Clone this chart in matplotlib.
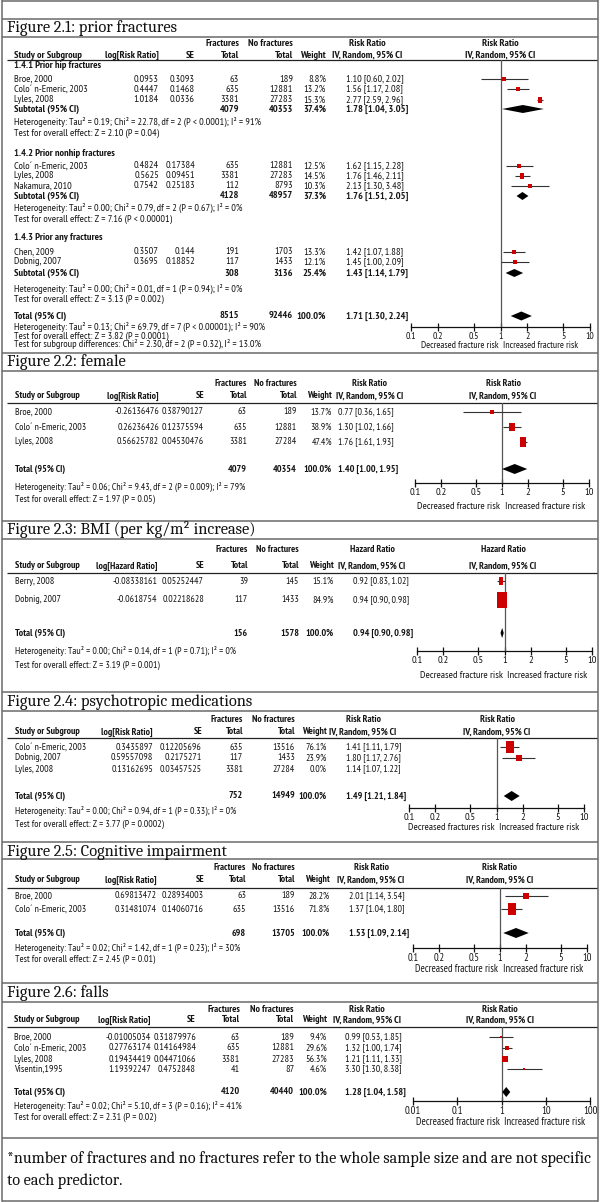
import matplotlib
matplotlib.use('Agg')
import matplotlib.pyplot as plt
from matplotlib import transforms
from matplotlib.ticker import NullLocator

# ---------------- DATA ----------------
# Figure 2.1: prior fractures
f1_groups = ['1.4.1 Prior hip fractures', '1.4.2 Prior nonhip fractures', '1.4.3 Prior any fractures']
f1_study = ['Broe, 2000', 'Colo´ n-Emeric, 2003', 'Lyles, 2008',
            'Colo´ n-Emeric, 2003', 'Lyles, 2008', 'Nakamura, 2010',
            'Chen, 2009', 'Dobnig, 2007']
f1_group_of = [0, 0, 0, 1, 1, 1, 2, 2]
f1_log = [0.0953, 0.4447, 1.0184, 0.4824, 0.5625, 0.7542, 0.3507, 0.3695]
f1_se = [0.3093, 0.1468, 0.0336, 0.17384, 0.09451, 0.25183, 0.144, 0.18852]
f1_frac = [63, 635, 3381, 635, 3381, 112, 191, 117]
f1_nofrac = [189, 12881, 27283, 12881, 27283, 8793, 1703, 1433]
f1_weight = [8.8, 13.2, 15.3, 12.5, 14.5, 10.3, 13.3, 12.1]
f1_rr = [1.10, 1.56, 2.77, 1.62, 1.76, 2.13, 1.42, 1.45]
f1_lo = [0.60, 1.17, 2.59, 1.15, 1.46, 1.30, 1.07, 1.00]
f1_hi = [2.02, 2.08, 2.96, 2.28, 2.11, 3.48, 1.88, 2.09]
f1_sub_frac = [4079, 4128, 308]
f1_sub_nofrac = [40353, 48957, 3136]
f1_sub_weight = [37.4, 37.3, 25.4]
f1_sub_rr = [1.78, 1.76, 1.43]
f1_sub_lo = [1.04, 1.51, 1.14]
f1_sub_hi = [3.05, 2.05, 1.79]
f1_sub_het = ['Heterogeneity: Tau² = 0.19; Chi² = 22.78, df = 2 (P < 0.0001); I² = 91%',
              'Heterogeneity: Tau² = 0.00; Chi² = 0.79, df = 2 (P = 0.67); I² = 0%',
              'Heterogeneity: Tau² = 0.00; Chi² = 0.01, df = 1 (P = 0.94); I² = 0%']
f1_sub_test = ['Test for overall effect: Z = 2.10 (P = 0.04)',
               'Test for overall effect: Z = 7.16 (P < 0.00001)',
               'Test for overall effect: Z = 3.13 (P = 0.002)']
f1_tot = [8515, 92446, 100.0, 1.71, 1.30, 2.24]
f1_notes = ['Heterogeneity: Tau² = 0.13; Chi² = 69.79, df = 7 (P < 0.00001); I² = 90%',
            'Test for overall effect: Z = 3.82 (P = 0.0001)',
            'Test for subgroup differences: Chi² = 2.30, df = 2 (P = 0.32), I² = 13.0%']

# Figure 2.2: female
f2_study = ['Broe, 2000', 'Colo´ n-Emeric, 2003', 'Lyles, 2008']
f2_log = [-0.26136476, 0.26236426, 0.56625782]
f2_se = [0.38790127, 0.12375594, 0.04530476]
f2_frac = [63, 635, 3381]
f2_nofrac = [189, 12881, 27284]
f2_weight = [13.7, 38.9, 47.4]
f2_rr = [0.77, 1.30, 1.76]
f2_lo = [0.36, 1.02, 1.61]
f2_hi = [1.65, 1.66, 1.93]
f2_tot = [4079, 40354, 100.0, 1.40, 1.00, 1.95]
f2_notes = ['Heterogeneity: Tau² = 0.06; Chi² = 9.43, df = 2 (P = 0.009); I² = 79%',
            'Test for overall effect: Z = 1.97 (P = 0.05)']

# Figure 2.3: BMI
f3_study = ['Berry, 2008', 'Dobnig, 2007']
f3_log = [-0.08338161, -0.0618754]
f3_se = [0.05252447, 0.02218628]
f3_frac = [39, 117]
f3_nofrac = [145, 1433]
f3_weight = [15.1, 84.9]
f3_rr = [0.92, 0.94]
f3_lo = [0.83, 0.90]
f3_hi = [1.02, 0.98]
f3_tot = [156, 1578, 100.0, 0.94, 0.90, 0.98]
f3_notes = ['Heterogeneity: Tau² = 0.00; Chi² = 0.14, df = 1 (P = 0.71); I² = 0%',
            'Test for overall effect: Z = 3.19 (P = 0.001)']

# Figure 2.4: psychotropic medications
f4_study = ['Colo´ n-Emeric, 2003', 'Dobnig, 2007', 'Lyles, 2008']
f4_log = [0.3435897, 0.59557098, 0.13162695]
f4_se = [0.12205696, 0.2175271, 0.03457525]
f4_frac = [635, 117, 3381]
f4_nofrac = [13516, 1433, 27284]
f4_weight = [76.1, 23.9, 0.0]
f4_rr = [1.41, 1.80, 1.14]
f4_lo = [1.11, 1.17, 1.07]
f4_hi = [1.79, 2.76, 1.22]
f4_tot = [752, 14949, 100.0, 1.49, 1.21, 1.84]
f4_notes = ['Heterogeneity: Tau² = 0.00; Chi² = 0.94, df = 1 (P = 0.33); I² = 0%',
            'Test for overall effect: Z = 3.77 (P = 0.0002)']

# Figure 2.5: Cognitive impairment
f5_study = ['Broe, 2000', 'Colo´ n-Emeric, 2003']
f5_log = [0.69813472, 0.31481074]
f5_se = [0.28934003, 0.14060716]
f5_frac = [63, 635]
f5_nofrac = [189, 13516]
f5_weight = [28.2, 71.8]
f5_rr = [2.01, 1.37]
f5_lo = [1.14, 1.04]
f5_hi = [3.54, 1.80]
f5_tot = [698, 13705, 100.0, 1.53, 1.09, 2.14]
f5_notes = ['Heterogeneity: Tau² = 0.02; Chi² = 1.42, df = 1 (P = 0.23); I² = 30%',
            'Test for overall effect: Z = 2.45 (P = 0.01)']

# Figure 2.6: falls
f6_study = ['Broe, 2000', 'Colo´ n-Emeric, 2003', 'Lyles, 2008', 'Visentin,1995']
f6_log = [-0.01005034, 0.27763174, 0.19434419, 1.19392247]
f6_se = [0.31879976, 0.14164984, 0.04471066, 0.4752848]
f6_frac = [63, 635, 3381, 41]
f6_nofrac = [189, 12881, 27283, 87]
f6_weight = [9.4, 29.6, 56.3, 4.6]
f6_rr = [0.99, 1.32, 1.21, 3.30]
f6_lo = [0.53, 1.00, 1.11, 1.30]
f6_hi = [1.85, 1.74, 1.33, 8.38]
f6_tot = [4120, 40440, 100.0, 1.28, 1.04, 1.58]
f6_notes = ['Heterogeneity: Tau² = 0.02; Chi² = 5.10, df = 3 (P = 0.16); I² = 41%',
            'Test for overall effect: Z = 2.31 (P = 0.02)']

titles = ['Figure 2.1: prior fractures', 'Figure 2.2: female',
          'Figure 2.3: BMI (per kg/m² increase)', 'Figure 2.4: psychotropic medications',
          'Figure 2.5: Cognitive impairment', 'Figure 2.6: falls']
footnote = ['*number of fractures and no fractures refer to the whole sample size and are not specific',
            'to each predictor.']
ticks_a = [0.1, 0.2, 0.5, 1, 2, 5, 10]
ticklab_a = ['0.1', '0.2', '0.5', '1', '2', '5', '10']
ticks_b = [0.01, 0.1, 1, 10, 100]
ticklab_b = ['0.01', '0.1', '1', '10', '100']

# ---------------- DRAWING ----------------
W, H = 600, 1202
fig = plt.figure(figsize=(6, 12.02), dpi=100)
bg = fig.add_axes([0, 0, 1, 1])
bg.set_xlim(0, W)
bg.set_ylim(H, 0)
bg.axis('off')

NARROW = ['PT Sans Narrow', 'Archivo Narrow', 'Liberation Sans', 'DejaVu Sans']
SERIF = ['Caladea', 'Liberation Serif', 'DejaVu Serif']
TXT = '#151515'
RED = '#cc0000'
BORDER = '#6a6a6a'


def txt(x, y, s, L, ha='left', bold=False):
    bg.text(x, y, s, ha=ha, va='center', fontsize=L['fs'], family=NARROW,
            fontweight='bold' if bold else 'normal', color=TXT)


def hline(y, x0=2, x1=598, color=BORDER, lw=1.1):
    bg.plot([x0, x1], [y, y], color=color, lw=lw, solid_capstyle='butt')


def panel_frame(L, title):
    hline(L['top'])
    hline(L['rule'])
    bg.text(7, L['title'], title, ha='left', va='center', fontsize=11.8,
            family=SERIF, color='#111')


def header(L, ratio):
    y1, y2 = L['hy1'], L['hy2']
    txt(L['fr'], y1, 'Fractures', L, ha='right', bold=True)
    txt(L['nf'], y1, 'No fractures', L, ha='right', bold=True)
    txt(L['rrh'], y1, ratio, L, ha='center', bold=True)
    txt(L['fh'], y1, ratio, L, ha='center', bold=True)
    txt(L['study'], y2, 'Study or Subgroup', L, bold=True)
    txt(L['log'], y2, 'log[' + ratio + ']', L, ha='right', bold=True)
    txt(L['se'], y2, 'SE', L, ha='right', bold=True)
    txt(L['fr'], y2, 'Total', L, ha='right', bold=True)
    txt(L['nf'], y2, 'Total', L, ha='right', bold=True)
    txt(L['w'], y2, 'Weight', L, ha='right', bold=True)
    txt(L['rrh'], y2, 'IV, Random, 95% CI', L, ha='center', bold=True)
    txt(L['fh'], y2, 'IV, Random, 95% CI', L, ha='center', bold=True)
    hline(L['ul'], 7, 597, color='#222', lw=0.9)


def forest_axes(L, lim, ticks, labels, dec='Decreased fracture risk'):
    x0, x1 = L['ax_lo'], L['ax_hi']
    tfs = L.get('tfs', L['fs'] + 0.45)
    ax = fig.add_axes([x0 / W, 1 - L['axis'] / H, (x1 - x0) / W, (L['axis'] - L['ul']) / H])
    ax.set_xscale('log')
    ax.set_xlim(lim)
    ax.set_ylim(L['axis'], L['ul'])
    ax.patch.set_alpha(0)
    for s in ['top', 'right', 'left']:
        ax.spines[s].set_visible(False)
    ax.spines['bottom'].set_linewidth(0.9)
    ax.spines['bottom'].set_color('#111')
    ax.set_yticks([])
    ax.set_xticks(ticks)
    ax.set_xticklabels(labels, fontsize=tfs, family=NARROW, color=TXT)
    ax.xaxis.set_minor_locator(NullLocator())
    ax.tick_params(axis='x', direction='inout', length=6, width=0.9, pad=0.3, color='#111')
    ax.axvline(1, color='#555', lw=0.9)
    tr = transforms.blended_transform_factory(ax.transAxes, ax.transData)
    ya = L['axis'] + L['lab']
    ax.text(0.49, ya, dec, transform=tr, ha='right', va='center', fontsize=tfs,
            family=NARROW, color=TXT, clip_on=False)
    ax.text(0.515, ya, 'Increased fracture risk', transform=tr, ha='left', va='center',
            fontsize=tfs, family=NARROW, color=TXT, clip_on=False)
    return ax


def study_row(L, ax, y, name, lg, se, fr, nf, w, rr, lo, hi):
    txt(L['study'], y, name, L)
    txt(L['log'], y, str(lg), L, ha='right')
    txt(L['se'], y, str(se), L, ha='right')
    txt(L['fr'], y, str(fr), L, ha='right')
    txt(L['nf'], y, str(nf), L, ha='right')
    txt(L['w'], y, '%.1f%%' % w, L, ha='right')
    txt(L['rr'], y, '%.2f [%.2f, %.2f]' % (rr, lo, hi), L)
    if w > 0:
        ax.plot([lo, hi], [y, y], color='#333', lw=0.8, solid_capstyle='butt')
        wpx = L['k'] * (w / 100.0) ** 0.5
        hpx = wpx * L['asp']
        a = L['asp']
        verts = [(-1, -a), (1, -a), (1, a), (-1, a), (-1, -a)]
        ax.scatter([rr], [y], marker=verts, s=(hpx * 0.72) ** 2, color=RED,
                   linewidths=0, zorder=3)


def total_row(L, ax, y, label, fr, nf, w, rr, lo, hi, h):
    txt(L['study'], y, label, L, bold=True)
    txt(L['fr'], y, str(fr), L, ha='right', bold=True)
    txt(L['nf'], y, str(nf), L, ha='right', bold=True)
    txt(L['w'], y, '%.1f%%' % w, L, ha='right', bold=True)
    txt(L['rr'], y, '%.2f [%.2f, %.2f]' % (rr, lo, hi), L, bold=True)
    ax.fill([lo, rr, hi, rr], [y, y - h, y, y + h], color='black', lw=0, zorder=3)


# outer borders
bg.plot([2, 2], [0, H - 1], color=BORDER, lw=1.1)
bg.plot([598, 598], [0, H - 1], color=BORDER, lw=1.1)
hline(0.6)
hline(H - 1)

# ---- Figure 2.1 ----
L = dict(top=19, title=28, rule=37, hy1=44, hy2=55, ul=60, study=14, log=159, se=195,
         fr=239, nf=293, w=326, rr=346, rrh=367, fh=500, ax_lo=411, ax_hi=590, axis=327,
         fs=7.35, tfs=7.0, k=11, asp=1.2, lab=18)
panel_frame(L, titles[0])
header(L, 'Risk Ratio')
ax = forest_axes(L, (0.1, 10), ticks_a, ticklab_a)
grp_y = [66, 154, 238]
row_y = [79, 89, 100, 166, 176, 186, 252, 262]
sub_y = [109, 196, 273]
het_y = [122, 208, 289]
tst_y = [133, 219, 299]
for g in range(3):
    txt(L['study'], grp_y[g], f1_groups[g], L, bold=True)
    total_row(L, ax, sub_y[g], 'Subtotal (95% CI)', f1_sub_frac[g], f1_sub_nofrac[g],
              f1_sub_weight[g], f1_sub_rr[g], f1_sub_lo[g], f1_sub_hi[g], 4)
    txt(L['study'], het_y[g], f1_sub_het[g], L)
    txt(L['study'], tst_y[g], f1_sub_test[g], L)
for i in range(len(f1_study)):
    study_row(L, ax, row_y[i], f1_study[i], f1_log[i], f1_se[i], f1_frac[i], f1_nofrac[i],
              f1_weight[i], f1_rr[i], f1_lo[i], f1_hi[i])
total_row(L, ax, 316, 'Total (95% CI)', *f1_tot, 4.5)
for yy, s in zip([327, 336, 344], f1_notes):
    txt(L['study'], yy, s, L)


def simple_panel(L, title, ratio, study, lg, se, fr, nf, w, rr, lo, hi, tot, notes,
                 rows, ty, ny, lim=(0.1, 10), ticks=ticks_a, labels=ticklab_a,
                 dec='Decreased fracture risk'):
    panel_frame(L, title)
    header(L, ratio)
    ax = forest_axes(L, lim, ticks, labels, dec)
    for i in range(len(study)):
        study_row(L, ax, rows[i], study[i], lg[i], se[i], fr[i], nf[i], w[i], rr[i], lo[i], hi[i])
    total_row(L, ax, ty, 'Total (95% CI)', *tot, 5)
    for yy, s in zip(ny, notes):
        txt(L['study'], yy, s, L)


# ---- Figure 2.2 ----
L = dict(top=353, title=362, rule=371, hy1=383, hy2=396, ul=403, study=15, log=159, se=204,
         fr=247, nf=297, w=332, rr=338, rrh=370, fh=503, ax_lo=415, ax_hi=589, axis=483,
         fs=7.1, k=10, asp=1.35, lab=23)
simple_panel(L, titles[1], 'Risk Ratio', f2_study, f2_log, f2_se, f2_frac, f2_nofrac,
             f2_weight, f2_rr, f2_lo, f2_hi, f2_tot, f2_notes, [412, 427, 442], 469, [487, 499])

# ---- Figure 2.3 ----
L = dict(top=521, title=530, rule=539, hy1=550, hy2=566, ul=573, study=15, log=157, se=204,
         fr=248, nf=299, w=334, rr=353, rrh=372, fh=503, ax_lo=417, ax_hi=592, axis=651,
         fs=7.1, k=11, asp=1.65, lab=25)
simple_panel(L, titles[2], 'Hazard Ratio', f3_study, f3_log, f3_se, f3_frac, f3_nofrac,
             f3_weight, f3_rr, f3_lo, f3_hi, f3_tot, f3_notes, [581, 600], 633, [651, 665])

# ---- Figure 2.4 ----
L = dict(top=692, title=702, rule=711, hy1=719, hy2=732, ul=738, study=15, log=153, se=202,
         fr=243, nf=295, w=327, rr=346, rrh=363, fh=497, ax_lo=409, ax_hi=584, axis=808,
         fs=7.1, k=10.3, asp=1.25, lab=20)
simple_panel(L, titles[3], 'Risk Ratio', f4_study, f4_log, f4_se, f4_frac, f4_nofrac,
             f4_weight, f4_rr, f4_lo, f4_hi, f4_tot, f4_notes, [747, 758, 769], 796, [811, 824],
             dec='Decreased fractures risk')

# ---- Figure 2.5 ----
L = dict(top=842, title=852, rule=859, hy1=868, hy2=880, ul=888, study=15, log=157, se=204,
         fr=246, nf=295, w=330, rr=349, rrh=371, fh=500, ax_lo=413, ax_hi=587, axis=948,
         fs=7.15, k=10.5, asp=1.25, lab=21)
simple_panel(L, titles[4], 'Risk Ratio', f5_study, f5_log, f5_se, f5_frac, f5_nofrac,
             f5_weight, f5_rr, f5_lo, f5_hi, f5_tot, f5_notes, [896, 909], 933, [948, 959])

# ---- Figure 2.6 ----
L = dict(top=983, title=993, rule=1002, hy1=1009, hy2=1020, ul=1027, study=14, log=151, se=196,
         fr=240, nf=294, w=327, rr=345, rrh=367, fh=500, ax_lo=413, ax_hi=590, axis=1101,
         fs=7.2, k=7, asp=1.3, lab=21)
simple_panel(L, titles[5], 'Risk Ratio', f6_study, f6_log, f6_se, f6_frac, f6_nofrac,
             f6_weight, f6_rr, f6_lo, f6_hi, f6_tot, f6_notes, [1037, 1048, 1059, 1069], 1092,
             [1106, 1117], lim=(0.01, 100), ticks=ticks_b, labels=ticklab_b)

# ---- footnote ----
hline(1138)
for yy, s in zip([1159, 1181], footnote):
    bg.text(7, yy, s, ha='left', va='center', fontsize=11.6, family=SERIF, color='#111')

fig.savefig('out.png', dpi=100)
